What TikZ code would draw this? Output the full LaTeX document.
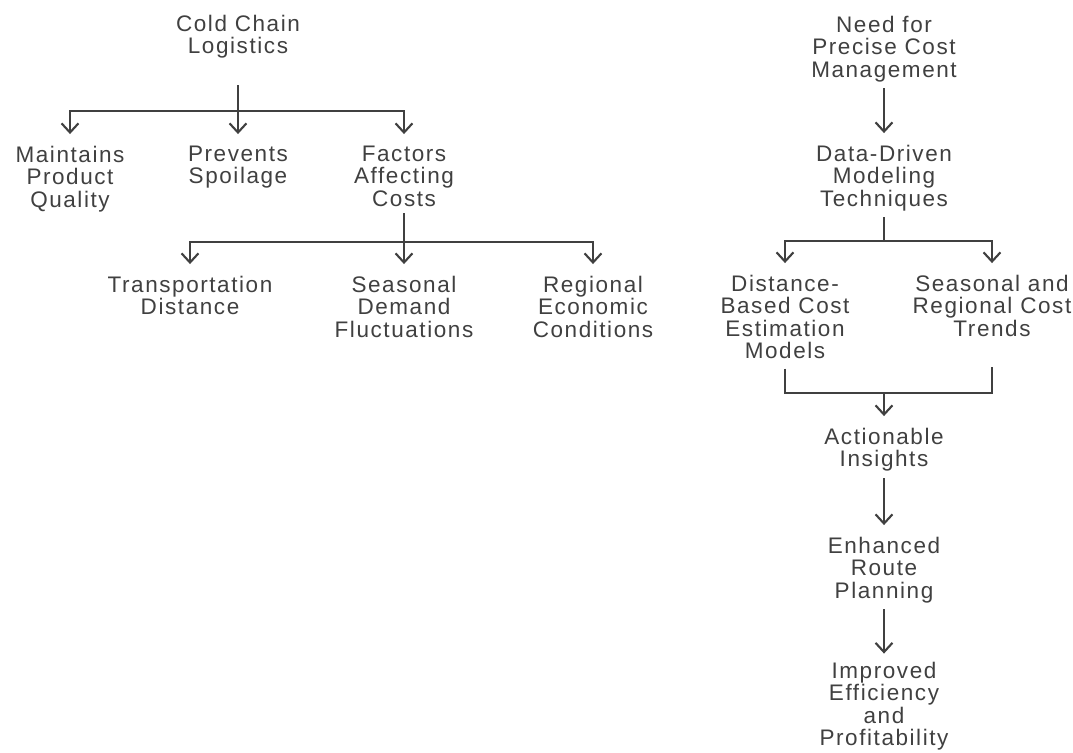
\documentclass[tikz,border=0pt]{standalone}
\usepackage{fontspec}
\setmainfont[LetterSpace=7]{Liberation Sans}
\usetikzlibrary{arrows.meta}
\definecolor{ink}{HTML}{404040}
\tikzset{
  lbl/.style={align=center,inner sep=0pt,text=ink,anchor=north,
              font=\fontsize{16}{15.8}\selectfont},
  ln/.style={draw=ink,line width=1.5pt,shorten <=4.5pt},
  arr/.style={ln,-{Straight Barb[length=6.5pt,width=12pt]},shorten >=8.5pt},
}

\begin{document}
\begin{tikzpicture}[x=0.025cm,y=-0.025cm]
  \useasboundingbox (0,0) rectangle (1073,752);

  % ---------- left tree ----------
  \node[lbl] (cold)  at (238,15)  {Cold Chain\\Logistics};
  \node[lbl] (maint) at (70,146)  {Maintains\\Product\\Quality};
  \node[lbl] (prev)  at (238,146) {Prevents\\Spoilage};
  \node[lbl] (fact)  at (404,146) {Factors\\Affecting\\Costs};

  \node[lbl] (trans) at (190,276) {Transportation\\Distance};
  \node[lbl] (seas)  at (404,276) {Seasonal\\Demand\\Fluctuations};
  \node[lbl] (reg)   at (593,276) {Regional\\Economic\\Conditions};

  \coordinate (bus1) at (cold.south |- 0,111);
  \coordinate (bus2) at (fact.south |- 0,242);

  \draw[ln,shorten <=19pt] (cold.south) -- (bus1);
  \foreach \c in {maint,prev,fact}
    \draw[arr,shorten <=0pt] (bus1) -| (\c.north);

  \draw[ln] (fact.south) -- (bus2);
  \foreach \c in {trans,seas,reg}
    \draw[arr,shorten <=0pt] (bus2) -| (\c.north);

  % ---------- right chain ----------
  \node[lbl] (need)   at (884,16)  {Need for\\Precise Cost\\Management};
  \node[lbl] (data)   at (884,145) {Data-Driven\\Modeling\\Techniques};
  \node[lbl] (dist)   at (785,275) {Distance-\\Based Cost\\Estimation\\Models};
  \node[lbl] (seastr) at (992,275) {Seasonal and\\Regional Cost\\Trends};
  \node[lbl] (act)    at (884,428) {Actionable\\Insights};
  \node[lbl] (enh)    at (884,537) {Enhanced\\Route\\Planning};
  \node[lbl] (imp)    at (884,662) {Improved\\Efficiency\\and\\Profitability};

  \coordinate (bus3) at (data.south |- 0,241);
  \coordinate (bus4) at (act.north |- 0,393);

  \draw[arr] (need.south) -- (data.north);
  \draw[ln] (data.south) -- (bus3);
  \foreach \c in {dist,seastr}
    \draw[arr,shorten <=0pt] (bus3) -| (\c.north);

  % the two estimates merge again
  \draw[ln,shorten <=7pt,shorten >=22pt] (dist.south) -- (dist.south |- bus4)
    -- (seastr.south |- bus4) -- (seastr.south);
  \draw[arr,shorten <=0pt] (bus4) -- (act.north);
  \draw[arr] (act.south) -- (enh.north);
  \draw[arr,shorten >=6pt] (enh.south) -- (imp.north);

\end{tikzpicture}
\end{document}
